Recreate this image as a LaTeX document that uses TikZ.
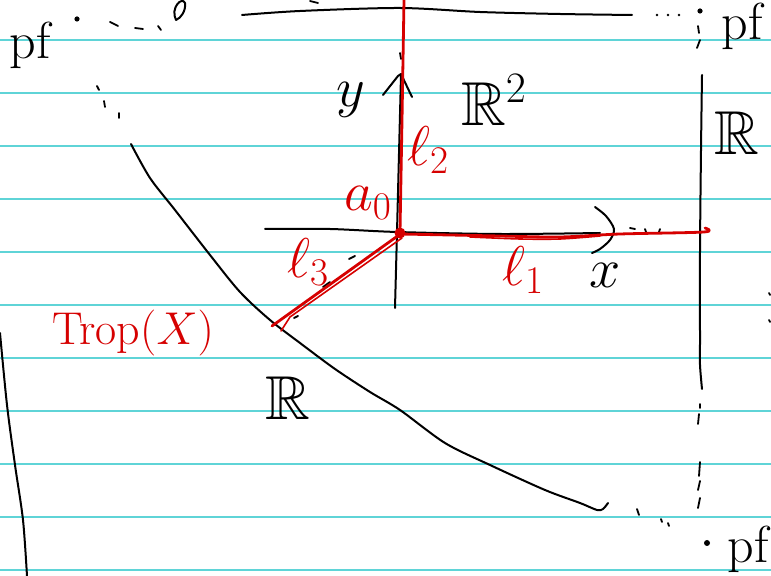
\RequirePackage{fix-cm}
\documentclass[tikz,border=0pt]{standalone}
\usepackage{amsmath,amssymb}
\usetikzlibrary{calc}

\definecolor{ruleline}{RGB}{95,212,215}
\definecolor{penred}{RGB}{214,0,0}

\begin{document}
\begin{tikzpicture}[
    x=0.5pt, y=-0.5pt,
    pen/.style={
        draw=black,
        line width=1pt,
        line cap=round,
        line join=round
    },
    redpen/.style={
        draw=penred,
        line width=1.4pt,
        line cap=round,
        line join=round
    },
    ruled/.style={
        draw=ruleline,
        line width=1.1pt
    },
    tick/.style={
        pen,
        line width=0.9pt
    },
    hand/.style={
        font=\fontsize{28}{30}\selectfont,
        inner sep=0pt
    },
    redhand/.style={
        hand,
        text=penred
    },
    pflbl/.style={
        hand,
        font=\fontsize{26}{28}\selectfont
    },
    reals/.style={
        hand,
        font=\fontsize{31}{33}\selectfont
    }
]

% ---------------------------------------------------------
% Canvas and ruled paper
% ---------------------------------------------------------
\path[use as bounding box, fill=white] (0,0) rectangle (771,576);

\foreach \ly in {40,93,...,570}
    \draw[ruled] (0,\ly) -- (771,\ly);

% ---------------------------------------------------------
% Black sketch: boundary of the compactification
% ---------------------------------------------------------
% top edge
\draw[pen] plot[smooth] coordinates
    {(242,15) (300,11) (400,8) (480,12) (560,14) (632,15)};
\draw[tick] (310,1) -- (318,3);
\foreach \dx in {657,668,679}
    \fill (\dx,15) circle (1.3);
\fill (700,11) circle (2.6);
\draw[tick] (698,26) -- (699,33);
\draw[tick] (700,40) -- (697,48);

% top left corner
\fill (77,19) circle (2.6);
\draw[tick] (110,22) -- (118,26);
\draw[tick] (135,28) -- (143,29);
\draw[tick] (158,26) -- (161,30);
\draw[pen] (176,20) .. controls (170,8) and (182,-4) .. (185,3)
    .. controls (186,11) and (181,18) .. (176,20);
\draw[tick] (97,86) -- (99,90);
\draw[tick] (104,101) -- (105,107);
\draw[tick] (119,113) -- (119,118);

% right edge
\draw[pen] plot[smooth] coordinates
    {(702,75) (701,150) (700,250) (700,340) (700,365) (702,389)};
\draw[tick] (700,404) -- (700,408);
\draw[tick] (699,414) -- (698,424);
\draw[tick] (700,462) -- (699,476);
\draw[tick] (700,481) -- (698,490);
\draw[tick] (700,498) -- (698,508);
\fill (707,543) circle (3);
\draw[tick] (769,293) -- (770,295);
\draw[tick] (769,320) -- (770,322);

% left edge
\draw[pen] plot[smooth] coordinates
    {(0,333) (7,405) (15,465) (23,520) (27,576)};

% diagonal curve
\draw[pen] plot[smooth] coordinates
    {(131,144) (150,178) (175,210) (210,255) (240,292) (270,320)
     (300,343) (335,369) (370,392) (400,410) (445,443) (490,465)
     (545,490) (580,503) (597,510) (603,509) (608,503)};
\draw[tick] (637,509) -- (639,515);
\draw[tick] (661,519) -- (662,522);
\draw[tick] (668,523) -- (669,526);

% ---------------------------------------------------------
% Axes
% ---------------------------------------------------------
\draw[pen] plot[smooth] coordinates
    {(265,229) (330,229) (397,232) (500,234) (600,233)};
\draw[pen] plot[smooth] coordinates
    {(595,207) (606,216) (614,229) (610,240) (600,249) (592,253)};
\draw[tick] (630,228) -- (635,229);
\draw[tick] (645,229) -- (646,232);
\draw[tick] (660,229) -- (659,232);

\draw[pen] (395,308) -- (397,232) -- (401,75);
\draw[pen] (383,95) -- (398,76) -- (401,74) -- (412,97);
\draw[tick] (400,53) -- (401,59);
\draw[tick] (403,37) -- (403,44);

% small marks along l_3
\draw[tick] (349,259) -- (355,256);
\draw[tick] (323,287) -- (330,282);
\draw[tick] (294,318) -- (298,316);

% ---------------------------------------------------------
% Red: tropical curve Trop(X)
% ---------------------------------------------------------
\draw[redpen] (404,0) -- (402,120) -- (400,232);
\draw[redpen] plot[smooth] coordinates
    {(400,234) (450,235) (500,236) (560,237) (620,234) (704,232) (705,228)};
\draw[redpen, line width=0.8pt] plot[smooth] coordinates
    {(470,237) (520,239) (560,239) (600,236)};
\draw[redpen] (399,235) -- (272,326);
\draw[redpen, line width=0.8pt] (402,238) -- (290,317) -- (281,331);
\fill[penred] (400,233) circle (5.5);

% ---------------------------------------------------------
% Labels
% ---------------------------------------------------------
\node[pflbl] (pftl) at (30,45) {pf};
\node[pflbl] (pftr) at (742,26) {pf};
\node[pflbl] (pfbr) at (748,549) {pf};

\node[hand] (ylbl) at (351,100) {$y$};
\node[hand] (xlbl) at (605,275) {$x$};

\node[reals] (rtwo) at (494,100) {$\mathbb{R}^2$};
\node[reals] (rright) at (737,133) {$\mathbb{R}$};
\node[reals] (rleft) at (288,398) {$\mathbb{R}$};

\node[redhand] (azero) at (368,203) {$a_0$};
\node[redhand] (ltwo) at (428,150) {$\ell_2$};
\node[redhand] (lone) at (523,270) {$\ell_1$};
\node[redhand] (lthree) at (308,262) {$\ell_3$};
\node[redhand, font=\fontsize{23}{25}\selectfont] (trop) at (133,333)
    {Trop$(X)$};

\end{tikzpicture}
\end{document}
